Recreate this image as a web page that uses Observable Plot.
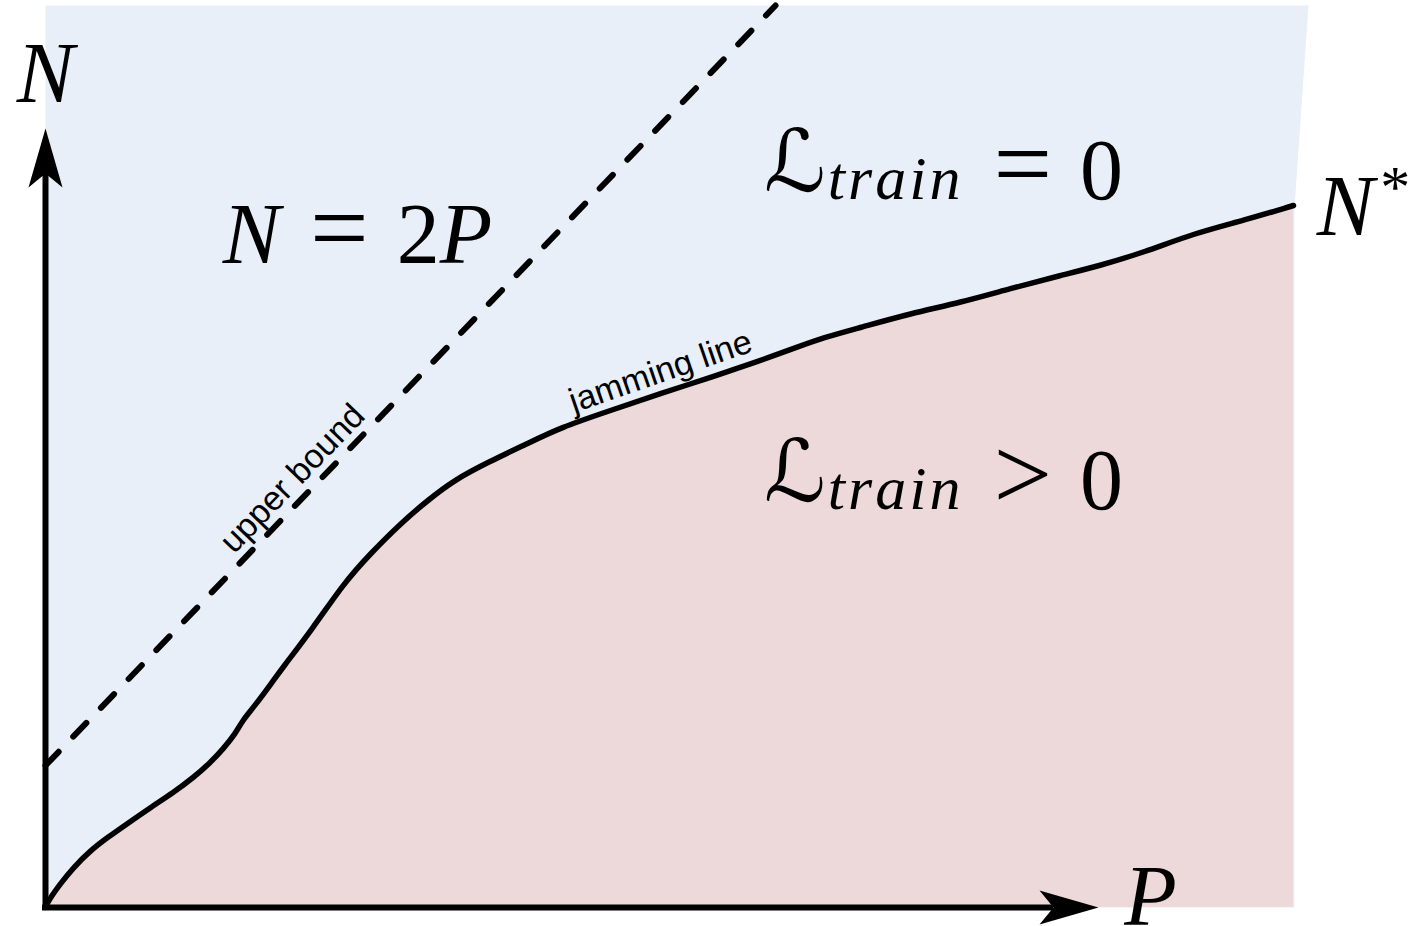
<!DOCTYPE html>
<html><head><meta charset="utf-8">
<script src="https://cdn.jsdelivr.net/npm/d3@7"></script>
<script src="https://cdn.jsdelivr.net/npm/@observablehq/plot@0.6"></script>
<style>html,body{margin:0;padding:0;background:#fff;overflow:hidden}#chart{position:absolute;left:0;top:0}</style>
</head><body><div id="chart"></div>
<script>
// Jamming line N*(P) (P, N in drawing units, origin at the axes corner)
const jamP = [0,3,15,28,45,62,82,105,128,148,165,178,190,197,208,228,235,268,298,325,355,382,408,442,482,515,565,615,665,715,748,778,815,865,915,965,1015,1055,1098,1148,1198,1248];
const jamN = [0,7,24,40,57,70,84,100,115,130,145,159,174,187,200,227,237,280,324,354,384,407,427,445,464,480,497,514,530,547,559,570,580,594,605,619,632,642,655,674,687,702];
// Upper bound N = 2P (dashed)
const boundP = [0, 730];
const boundN = [142, 902];
// Region outline of the L_train = 0 phase (background)
const zeroP = [0, 0, 1263, 1249, 1249];
const zeroN = [0, 902, 902, 700, 0];
// Axis arrows
const axisEndP = 1053, axisEndN = 779;
// Math labels
const mathText = ["N", "P", "N^*", "N = 2P", "ℒ_train = 0", "ℒ_train > 0"];
const mathP = [0, 1105, 1318, 312, 898, 898];
const mathN = [806, -17, 673, 645, 717, 407];
// Small labels
const noteText = ["upper bound", "jamming line"];
const noteP = [247, 615];
const noteN = [429, 536];
const noteAngle = [-46, -19];

const blueFill = "#e8eff8", pinkFill = "#eed9da";
const jam = jamP.map((p, i) => ({P: p, N: jamN[i]}));
const bound = boundP.map((p, i) => ({P: p, N: boundN[i]}));
const zero = zeroP.map((p, i) => ({P: p, N: zeroN[i]}));
const maths = mathText.map((t, i) => ({t, P: mathP[i], N: mathN[i]}));
const notes = noteText.map((t, i) => ({t, P: noteP[i], N: noteN[i], a: noteAngle[i]}));

const arrowUp = {draw(c) { c.moveTo(0, 0); c.lineTo(17, 59); c.lineTo(0, 45); c.lineTo(-17, 59); c.closePath(); }};
const arrowRight = {draw(c) { c.moveTo(0, 0); c.lineTo(-59, 17); c.lineTo(-45, 0); c.lineTo(-59, -17); c.closePath(); }};

const chart = Plot.plot({
  width: 1415, height: 926,
  marginTop: 0, marginRight: 0, marginBottom: 0, marginLeft: 0,
  x: {domain: [-45, 1370], range: [0, 1415], axis: null},
  y: {domain: [-19, 907], range: [926, 0], axis: null},
  style: {background: "white", fontFamily: "Liberation Sans, Arial, sans-serif"},
  marks: [
    Plot.line(zero, {x: "P", y: "N", fill: blueFill, stroke: "none"}),
    Plot.areaY(jam, {x: "P", y1: 0, y2: "N", fill: pinkFill, curve: "basis"}),
    Plot.line(bound, {x: "P", y: "N", stroke: "black", strokeWidth: 6, strokeDasharray: "19,21"}),
    Plot.line(jam, {x: "P", y: "N", stroke: "black", strokeWidth: 5.5, curve: "basis"}),
    Plot.ruleX([0], {y1: -3, y2: axisEndN - 45, stroke: "black", strokeWidth: 6}),
    Plot.ruleY([0], {x1: -3, x2: axisEndP - 45, stroke: "black", strokeWidth: 6}),
    Plot.dot([{P: 0, N: axisEndN}], {x: "P", y: "N", symbol: arrowUp, fill: "black", stroke: "none"}),
    Plot.dot([{P: axisEndP, N: 0}], {x: "P", y: "N", symbol: arrowRight, fill: "black", stroke: "none"}),
    Plot.text(notes, {x: "P", y: "N", text: "t", rotate: "a", fontSize: 34, fill: "black", textAnchor: "middle", lineAnchor: "middle"}),
    Plot.text(maths, {x: "P", y: "N", text: "t", fontSize: 86, fill: "black", textAnchor: "middle", lineAnchor: "bottom"})
  ]
});
document.getElementById("chart").appendChild(chart);

// typeset math labels with tspans
const serif = "Liberation Serif, Times New Roman, serif";
d3.select(chart).selectAll("text").each(function() {
  const s = this.textContent;
  if (!mathText.includes(s)) return;
  const el = d3.select(this);
  el.selectAll("*").remove();
  el.text(null).attr("font-family", serif);
  let i = 0, pendingDx = 0;
  const add = (str, o = {}) => {
    const t = el.append("tspan").text(str);
    if (o.italic) t.attr("font-style", "italic");
    if (o.family) t.attr("font-family", o.family);
    if (o.size) t.attr("font-size", o.size);
    if (o.ls) t.attr("letter-spacing", o.ls);
    const dx = pendingDx + (o.dx || 0);
    if (dx) t.attr("dx", dx);
    pendingDx = 0;
    if (o.dy) t.attr("dy", o.dy);
    return t;
  };
  while (i < s.length) {
    const ch = s[i];
    if (ch === " ") { i++; continue; }
    if (ch === "_") {
      let j = i + 1; while (j < s.length && /[a-z]/.test(s[j])) j++;
      add(s.slice(i + 1, j), {italic: true, size: 62, ls: 3, dy: 8, dx: 2});
      el.append("tspan").attr("dy", -8).text("");
      i = j; continue;
    }
    if (ch === "^") {
      add(s[i + 1], {size: 60, dy: -28, dx: 6});
      i += 2; continue;
    }
    if (ch === "ℒ") { add(ch, {family: "DejaVu Serif, DejaVu Sans, serif", size: 86}); i++; continue; }
    if (ch === "=" || ch === ">") {
      add(ch, {size: 104, dx: 30}); pendingDx = 28; i++; continue;
    }
    if (/[A-Za-z]/.test(ch)) { add(ch, {italic: true}); i++; continue; }
    add(ch); i++;
  }
});
</script>
</body></html>
